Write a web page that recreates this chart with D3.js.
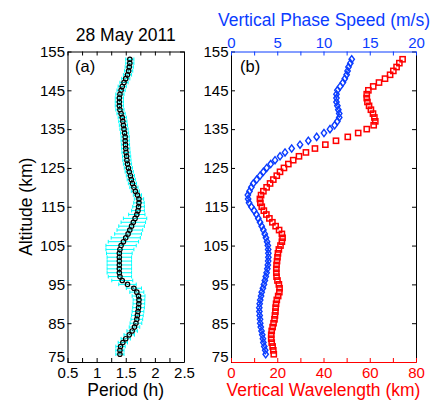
<!DOCTYPE html>
<html>
<head>
<meta charset="utf-8">
<script src="https://cdn.jsdelivr.net/npm/d3@7"></script>
<style>
  body { margin: 0; background: #fff; }
  text { font-family: "Liberation Sans", Arial, Helvetica, sans-serif; }
</style>
</head>
<body>
<div id="chart"></div>
<script>
// altitude levels (km)
const altitude = [77, 78, 79, 80, 81, 82, 83, 84, 85, 86, 87, 88, 89, 90, 91, 92, 93, 94, 95, 96,
  97, 98, 99, 100, 101, 102, 103, 104, 105, 106, 107, 108, 109, 110, 111, 112, 113, 114, 115, 116,
  117, 118, 119, 120, 121, 122, 123, 124, 125, 126, 127, 128, 129, 130, 131, 132, 133, 134, 135, 136,
  137, 138, 139, 140, 141, 142, 143, 144, 145, 146, 147, 148, 149, 150, 151, 152, 153];

// panel (a): period (h) and its uncertainty (half width, h)
const period = [1.40, 1.40, 1.41, 1.45, 1.50, 1.56, 1.61, 1.65, 1.675, 1.69, 1.70, 1.71, 1.72, 1.725, 1.727, 1.72, 1.69, 1.64, 1.53, 1.44,
  1.40, 1.39, 1.39, 1.39, 1.39, 1.39, 1.39, 1.40, 1.42, 1.46, 1.50, 1.54, 1.57, 1.60, 1.63, 1.66, 1.69, 1.71, 1.72, 1.727,
  1.727, 1.70, 1.665, 1.64, 1.615, 1.595, 1.58, 1.56, 1.545, 1.53, 1.52, 1.515, 1.505, 1.50, 1.495, 1.49, 1.49, 1.48, 1.47, 1.46,
  1.45, 1.44, 1.42, 1.40, 1.39, 1.39, 1.39, 1.40, 1.42, 1.44, 1.47, 1.50, 1.53, 1.55, 1.56, 1.57, 1.57];
const periodErr = [0.07, 0.07, 0.08, 0.08, 0.08, 0.09, 0.09, 0.09, 0.10, 0.10, 0.10, 0.10, 0.10, 0.10, 0.10, 0.11, 0.12, 0.13, 0.15, 0.18,
  0.20, 0.21, 0.21, 0.21, 0.21, 0.21, 0.22, 0.24, 0.26, 0.26, 0.25, 0.23, 0.22, 0.22, 0.21, 0.20, 0.14, 0.11, 0.10, 0.09,
  0.08, 0.07, 0.07, 0.07, 0.07, 0.07, 0.07, 0.07, 0.07, 0.07, 0.07, 0.07, 0.07, 0.07, 0.07, 0.07, 0.07, 0.07, 0.07, 0.07,
  0.07, 0.07, 0.07, 0.07, 0.07, 0.07, 0.07, 0.07, 0.07, 0.07, 0.07, 0.07, 0.07, 0.07, 0.07, 0.07, 0.07];

// panel (b): vertical wavelength (km) and vertical phase speed (m/s)
const wavelength = [18.5, 18.3, 18.0, 17.6, 17.4, 17.4, 17.6, 18.0, 18.4, 18.8, 19.0, 19.2, 19.3, 19.5, 19.8, 20.4, 20.9, 21.0, 20.7, 20.1,
  19.7, 19.6, 19.6, 19.7, 19.9, 20.1, 20.3, 20.7, 21.4, 22.0, 22.3, 22.0, 20.8, 19.3, 17.9, 16.6, 15.3, 14.2, 13.3, 12.7,
  12.5, 13.0, 14.0, 15.4, 16.9, 18.3, 19.8, 21.2, 22.9, 24.8, 26.9, 29.4, 32.4, 36.3, 40.8, 45.4, 50.5, 55.0, 58.7, 61.7,
  62.4, 62.0, 61.4, 60.5, 59.7, 59.0, 58.7, 58.7, 59.4, 61.5, 64.0, 66.6, 68.8, 70.2, 71.6, 72.8, 74.2];
const phaseSpeed = [3.75, 3.70, 3.60, 3.50, 3.45, 3.38, 3.30, 3.22, 3.16, 3.14, 3.10, 3.07, 3.06, 3.10, 3.16, 3.25, 3.32, 3.45, 3.56, 3.66,
  3.76, 3.85, 3.93, 3.98, 4.02, 4.04, 4.04, 4.02, 3.98, 3.90, 3.78, 3.65, 3.50, 3.32, 3.14, 2.95, 2.75, 2.50, 2.20, 1.95,
  1.85, 1.82, 2.00, 2.20, 2.41, 2.78, 3.14, 3.50, 3.86, 4.29, 4.76, 5.30, 5.84, 6.56, 7.46, 8.36, 9.26, 10.05, 10.70, 11.20,
  11.50, 11.70, 11.70, 11.60, 11.50, 11.40, 11.40, 11.40, 11.50, 11.80, 12.10, 12.30, 12.50, 12.60, 12.70, 12.90, 13.05];

const altTicks = [75, 85, 95, 105, 115, 125, 135, 145, 155];
const periodTicks = [0.5, 0.75, 1, 1.25, 1.5, 1.75, 2, 2.25, 2.5];
const periodLabels = [0.5, 1, 1.5, 2, 2.5];
const wavelengthTicks = [0, 10, 20, 30, 40, 50, 60, 70, 80];
const wavelengthLabels = [0, 20, 40, 60, 80];
const speedTicks = [0, 2.5, 5, 7.5, 10, 12.5, 15, 17.5, 20];
const speedLabels = [0, 5, 10, 15, 20];

const width = 433, height = 402;
const blue = "#0a3cff", red = "#ff0000";
const tickFont = 15, labelFont = 17.5;

const svg = d3.select("#chart").append("svg")
    .attr("width", width)
    .attr("height", height);

const plotTop = 51.5, plotBottom = 362;
const yScale = d3.scaleLinear().domain([75, 155]).range([plotBottom, plotTop]);
const xPeriod = d3.scaleLinear().domain([0.5, 2.5]).range([67.5, 184]);
const xWave = d3.scaleLinear().domain([0, 80]).range([231, 416]);
const xSpeed = d3.scaleLinear().domain([0, 20]).range([231, 416]);

const data = altitude.map((a, i) => ({
    alt: a, period: period[i], err: periodErr[i], wave: wavelength[i], speed: phaseSpeed[i]
}));

// helper to style an axis group
function styleAxis(g, color, showLabels) {
    g.attr("font-size", tickFont)
        .attr("font-family", null);
    g.selectAll(".domain").attr("stroke", color).attr("stroke-width", 1);
    g.selectAll(".tick line").attr("stroke", color).attr("stroke-width", 1);
    g.selectAll(".tick text").attr("fill", color);
    if (!showLabels) g.selectAll(".tick text").remove();
}

// lift the lowest altitude label a little so it clears the x labels
function liftBottomLabel(g) {
    g.selectAll(".tick text").filter(d => d === 75).attr("dy", "-0.05em");
}

function labelFmt(labels) {
    return d => labels.includes(d) ? String(d) : "";
}

// ---------- panel (a) ----------
const gA = svg.append("g").attr("class", "panelA");

gA.append("g")
    .attr("transform", "translate(0," + plotBottom + ")")
    .call(d3.axisBottom(xPeriod).tickValues(periodTicks).tickFormat(labelFmt(periodLabels))
        .tickSizeInner(-4).tickSizeOuter(0).tickPadding(5))
    .call(g => styleAxis(g, "#000", true));

gA.append("g")
    .attr("transform", "translate(0," + plotTop + ")")
    .call(d3.axisTop(xPeriod).tickValues(periodTicks).tickSizeInner(-4).tickSizeOuter(0))
    .call(g => styleAxis(g, "#000", false));

gA.append("g")
    .attr("transform", "translate(" + xPeriod.range()[0] + ",0)")
    .call(d3.axisLeft(yScale).tickValues(altTicks).tickFormat(d3.format("d"))
        .tickSizeInner(-4).tickSizeOuter(0).tickPadding(2.5))
    .call(g => styleAxis(g, "#000", true))
    .call(liftBottomLabel);

gA.append("g")
    .attr("transform", "translate(" + xPeriod.range()[1] + ",0)")
    .call(d3.axisRight(yScale).tickValues(altTicks).tickSizeInner(-4).tickSizeOuter(0))
    .call(g => styleAxis(g, "#000", false));

// error bars (cyan)
const errG = gA.append("g").attr("stroke", "#00ffff").attr("stroke-width", 1).attr("fill", "none");
errG.selectAll(".errLine")
    .data(data)
    .join("line")
    .attr("class", "errLine")
    .attr("x1", d => xPeriod(d.period - d.err))
    .attr("x2", d => xPeriod(d.period + d.err))
    .attr("y1", d => yScale(d.alt))
    .attr("y2", d => yScale(d.alt));
errG.selectAll(".capL")
    .data(data)
    .join("line")
    .attr("class", "capL")
    .attr("x1", d => xPeriod(d.period - d.err))
    .attr("x2", d => xPeriod(d.period - d.err))
    .attr("y1", d => yScale(d.alt) - 1.8)
    .attr("y2", d => yScale(d.alt) + 1.8);
errG.selectAll(".capR")
    .data(data)
    .join("line")
    .attr("class", "capR")
    .attr("x1", d => xPeriod(d.period + d.err))
    .attr("x2", d => xPeriod(d.period + d.err))
    .attr("y1", d => yScale(d.alt) - 1.8)
    .attr("y2", d => yScale(d.alt) + 1.8);

// dotted line + black circles
const line = d3.line().x(d => xPeriod(d.period)).y(d => yScale(d.alt));
gA.append("path")
    .datum(data)
    .attr("d", line)
    .attr("fill", "none")
    .attr("stroke", "#000")
    .attr("stroke-width", 1)
    .attr("stroke-dasharray", "1,1.5");

gA.selectAll(".markerCircle")
    .data(data)
    .join("circle")
    .attr("class", "markerCircle")
    .attr("cx", d => xPeriod(d.period))
    .attr("cy", d => yScale(d.alt))
    .attr("r", 2.2)
    .attr("fill", "none")
    .attr("stroke", "#000")
    .attr("stroke-width", 1.2);

gA.append("text")
    .attr("x", 75).attr("y", 72)
    .attr("font-size", 16.5)
    .text("(a)");

gA.append("text")
    .attr("x", (xPeriod.range()[0] + xPeriod.range()[1]) / 2).attr("y", 41)
    .attr("text-anchor", "middle")
    .attr("font-size", labelFont)
    .text("28 May 2011");

gA.append("text")
    .attr("x", (xPeriod.range()[0] + xPeriod.range()[1]) / 2).attr("y", 396)
    .attr("text-anchor", "middle")
    .attr("font-size", labelFont)
    .text("Period (h)");

gA.append("text")
    .attr("transform", "translate(32," + (plotTop + plotBottom) / 2 + ") rotate(-90)")
    .attr("text-anchor", "middle")
    .attr("font-size", labelFont)
    .text("Altitude (km)");

// ---------- panel (b) ----------
const gB = svg.append("g").attr("class", "panelB");

gB.append("g")
    .attr("transform", "translate(" + xWave.range()[0] + ",0)")
    .call(d3.axisLeft(yScale).tickValues(altTicks).tickFormat(d3.format("d"))
        .tickSizeInner(-4).tickSizeOuter(0).tickPadding(2.5))
    .call(g => styleAxis(g, "#000", true))
    .call(liftBottomLabel);

gB.append("g")
    .attr("transform", "translate(" + xWave.range()[1] + ",0)")
    .call(d3.axisRight(yScale).tickValues(altTicks).tickSizeInner(-4).tickSizeOuter(0))
    .call(g => styleAxis(g, "#000", false));

gB.append("g")
    .attr("transform", "translate(0," + plotBottom + ")")
    .call(d3.axisBottom(xWave).tickValues(wavelengthTicks).tickFormat(labelFmt(wavelengthLabels))
        .tickSizeInner(-4).tickSizeOuter(0).tickPadding(5))
    .call(g => styleAxis(g, red, true));

gB.append("g")
    .attr("transform", "translate(0," + plotTop + ")")
    .call(d3.axisTop(xSpeed).tickValues(speedTicks).tickFormat(labelFmt(speedLabels))
        .tickSizeInner(-4).tickSizeOuter(0).tickPadding(3.5))
    .call(g => styleAxis(g, blue, true));

// red squares: wavelength
gB.selectAll(".waveMarker")
    .data(data)
    .join("rect")
    .attr("class", "waveMarker")
    .attr("x", d => xWave(d.wave) - 2.6)
    .attr("y", d => yScale(d.alt) - 2.6)
    .attr("width", 5.2)
    .attr("height", 5.2)
    .attr("fill", "none")
    .attr("stroke", red)
    .attr("stroke-width", 1.5);

// blue diamonds: phase speed
gB.selectAll(".speedMarker")
    .data(data)
    .join("path")
    .attr("class", "speedMarker")
    .attr("d", "M0,-3.6L2.7,0L0,3.6L-2.7,0Z")
    .attr("transform", d => "translate(" + xSpeed(d.speed) + "," + yScale(d.alt) + ")")
    .attr("fill", "none")
    .attr("stroke", blue)
    .attr("stroke-width", 1.4);

gB.append("text")
    .attr("x", 240).attr("y", 72)
    .attr("font-size", 16.5)
    .text("(b)");

gB.append("text")
    .attr("x", (xWave.range()[0] + xWave.range()[1]) / 2 + 0.5).attr("y", 26)
    .attr("text-anchor", "middle")
    .attr("font-size", labelFont)
    .attr("fill", blue)
    .text("Vertical Phase Speed (m/s)");

gB.append("text")
    .attr("x", (xWave.range()[0] + xWave.range()[1]) / 2).attr("y", 396)
    .attr("text-anchor", "middle")
    .attr("font-size", labelFont)
    .attr("fill", red)
    .text("Vertical Wavelength (km)");
</script>
</body>
</html>
